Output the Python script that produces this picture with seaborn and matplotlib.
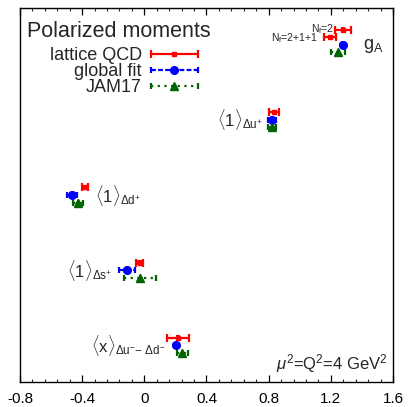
import matplotlib
matplotlib.use("Agg")
import matplotlib.pyplot as plt
import seaborn as sns
import pandas as pd
from matplotlib.container import ErrorbarContainer
from matplotlib.legend_handler import HandlerErrorbar
from matplotlib.ticker import MultipleLocator

# ---------------- data ----------------
# rows: 0 = g_A, 1 = <1>_{Du+}, 2 = <1>_{Dd+}, 3 = <1>_{Ds+}, 4 = <x>_{Du- - Dd-}
lat_row = [0, 0, 1, 2, 3, 4]
lat_val = [1.278, 1.195, 0.834, -0.382, -0.031, 0.217]
lat_err = [0.050, 0.040, 0.035, 0.020, 0.020, 0.070]

fit_row = [0, 1, 2, 3, 4]
fit_val = [1.278, 0.822, -0.465, -0.112, 0.204]
fit_err = [0.010, 0.025, 0.030, 0.050, 0.010]

jam_row = [0, 1, 2, 3, 4]
jam_val = [1.246, 0.822, -0.427, -0.028, 0.243]
jam_err = [0.045, 0.025, 0.035, 0.100, 0.035]

series_names = ["lattice QCD", "global fit", "JAM17"]
legend_title = "Polarized moments"
row_labels = [r"$\mathrm{g_A}$",
              r"$\langle 1\rangle_{\Delta \mathrm{u}^{+}}$",
              r"$\langle 1\rangle_{\Delta \mathrm{d}^{+}}$",
              r"$\langle 1\rangle_{\Delta \mathrm{s}^{+}}$",
              r"$\langle \mathrm{x}\rangle_{\Delta \mathrm{u}^{-}\mathrm{-}\ \Delta \mathrm{d}^{-}}$"]
nf_labels = [r"$\mathrm{N_f}$=2", r"$\mathrm{N_f}$=2+1+1"]
scale_label = r"$\mu^2$=Q$^2$=4 GeV$^2$"
xticks = [-0.8, -0.4, 0, 0.4, 0.8, 1.2, 1.6]

# ---------------- style ----------------
sns.set_theme(style="ticks")
plt.rcParams["font.family"] = ["Liberation Sans", "DejaVu Sans"]
plt.rcParams["mathtext.fontset"] = "custom"
plt.rcParams["mathtext.rm"] = "Liberation Sans"
plt.rcParams["mathtext.it"] = "Liberation Sans:italic"
plt.rcParams["mathtext.sf"] = "Liberation Sans"

RED = "#ff0000"
BLUE = "#0000ff"
GREEN = "#006400"

lat_off = [-0.2, -0.1, -0.1, -0.1, -0.1, -0.1]
fit_off = 0.0
jam_off = 0.1

lat_y = [r + o for r, o in zip(lat_row, lat_off)]
fit_y = [r + fit_off for r in fit_row]
jam_y = [r + jam_off for r in jam_row]

fig = plt.figure(figsize=(4.09, 4.07), dpi=100)
ax = fig.add_axes([20 / 409, 1 - 382 / 407, 373 / 409, 374 / 407])

e1 = ax.errorbar(lat_val, lat_y, xerr=lat_err, fmt="s", color=RED, ms=3.5,
                 elinewidth=1.6, capsize=3, capthick=1.6, label=series_names[0], zorder=3)
e2 = ax.errorbar(fit_val, fit_y, xerr=fit_err, fmt="o", color=BLUE, ms=5.5,
                 elinewidth=1.6, capsize=2.5, capthick=1.6, label=series_names[1], zorder=3)
e3 = ax.errorbar(jam_val, jam_y, xerr=jam_err, fmt="^", color=GREEN, ms=5.5,
                 elinewidth=1.6, capsize=2.5, capthick=1.6, label=series_names[2], zorder=3)
e2[2][0].set_linestyle((0, (2.2, 1.0)))
e3[2][0].set_linestyle((0, (1.0, 2.0)))

df = pd.DataFrame({
    "x": lat_val + fit_val + jam_val,
    "y": lat_y + fit_y + jam_y,
    "s": [series_names[0]] * len(lat_val) + [series_names[1]] * len(fit_val) + [series_names[2]] * len(jam_val),
})
sns.scatterplot(data=df, x="x", y="y", hue="s", style="s",
                palette={series_names[0]: RED, series_names[1]: BLUE, series_names[2]: GREEN},
                markers={series_names[0]: "s", series_names[1]: "o", series_names[2]: "^"},
                size="s", sizes={series_names[0]: 12, series_names[1]: 30, series_names[2]: 30},
                linewidth=0, legend=False, ax=ax, zorder=4)

ax.set_xlim(-0.8, 1.6)
ax.set_ylim(4.49, -0.49)
ax.set_xticks(xticks)
ax.set_xticklabels([f"{t:g}" for t in xticks], fontsize=11)
ax.xaxis.set_minor_locator(MultipleLocator(0.08))
ax.set_yticks([])
ax.set_xlabel("")
ax.set_ylabel("")
ax.tick_params(axis="x", which="major", direction="in", length=5, width=0.9,
               top=True, bottom=True, pad=7, colors="black")
ax.tick_params(axis="x", which="minor", direction="in", length=2.5, width=0.8,
               top=True, bottom=True)
for s in ax.spines.values():
    s.set_visible(True)
    s.set_linewidth(1.0)
    s.set_color("black")

# annotations
ax.text(1.405, 0.02, row_labels[0], fontsize=13, ha="left", va="center")
ax.text(0.765, 1.0, row_labels[1], fontsize=12, ha="right", va="center")
ax.text(-0.317, 2.0, row_labels[2], fontsize=12, ha="left", va="center")
ax.text(-0.205, 3.0, row_labels[3], fontsize=12, ha="right", va="center")
ax.text(0.135, 4.0, row_labels[4], fontsize=12, ha="right", va="center")
ax.text(1.225, -0.215, nf_labels[0], fontsize=7.5, ha="right", va="center")
ax.text(1.12, -0.085, nf_labels[1], fontsize=7.5, ha="right", va="center")
ax.text(0.985, 0.02, scale_label, fontsize=12, ha="right", va="bottom",
        transform=ax.transAxes)

# legend title as free text, entries as a frameless legend
ax.text(0.018, 0.922, legend_title, fontsize=15.5, ha="left", va="baseline",
        transform=ax.transAxes)
leg = ax.legend(handles=[e1, e2, e3], labels=series_names, loc="upper right",
                bbox_to_anchor=(0.477, 0.895), frameon=False, markerfirst=False,
                fontsize=13, handlelength=2.6, handletextpad=0.5, labelspacing=-0.05,
                borderpad=0.0, borderaxespad=0.0,
                handler_map={ErrorbarContainer: HandlerErrorbar(xerr_size=1.3)})

fig.savefig("out.png", dpi=100)
